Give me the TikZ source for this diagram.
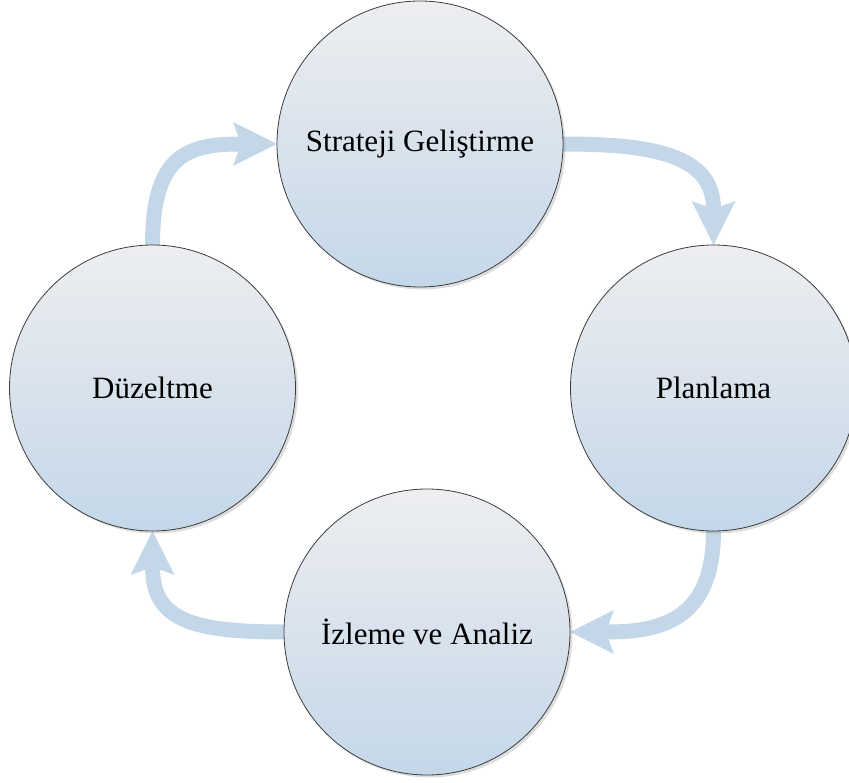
\documentclass[tikz,border=0pt]{standalone}
\usepackage{fontspec}
\setmainfont{Liberation Serif}
\usetikzlibrary{arrows.meta,shadows,backgrounds}

\definecolor{circtop}{RGB}{237,238,240}
\definecolor{circbot}{RGB}{196,215,233}
\definecolor{flow}{RGB}{196,215,232}
\definecolor{rim}{RGB}{60,60,60}

\tikzset{
  phase/.style={circle, minimum size=286pt, inner sep=0pt, outer sep=0pt,
    draw=rim, line width=0.8pt, top color=circtop, bottom color=circbot,
    drop shadow={shadow xshift=2.5pt, shadow yshift=-2.5pt, opacity=0.22, fill=black!60},
    font=\fontsize{31}{36}\selectfont},
  flowarrow/.style={draw=flow, line width=15pt,
    -{Stealth[length=44pt, width=44pt, inset=8pt, line width=0pt, fill=flow]}}
}

\begin{document}
\begin{tikzpicture}[x=1pt, y=-1pt]
  \useasboundingbox (0,0) rectangle (849,783);
  \clip (0,0) rectangle (849,783);

  % the four phases of the cycle
  \node[phase] (strat) at (420,144)   {Strateji Geliştirme};
  \node[phase] (plan)  at (713.5,388) {Planlama};
  \node[phase] (izle)  at (427,632)   {İzleme ve Analiz};
  \node[phase] (duz)   at (152.5,388) {Düzeltme};

  % curved arrows leading from one phase to the next
  \begin{pgfonlayer}{background}
    \draw[flowarrow] (strat.east) .. controls +(90,0) and +(0,-90) .. (plan.north);
    \draw[flowarrow] (plan.south) .. controls +(0,90) and +(90,0) .. (izle.east);
    \draw[flowarrow] (izle.west) .. controls +(-90,0) and +(0,90) .. (duz.south);
    \draw[flowarrow] (duz.north) .. controls +(0,-90) and +(-90,0) .. (strat.west);
  \end{pgfonlayer}
\end{tikzpicture}
\end{document}
